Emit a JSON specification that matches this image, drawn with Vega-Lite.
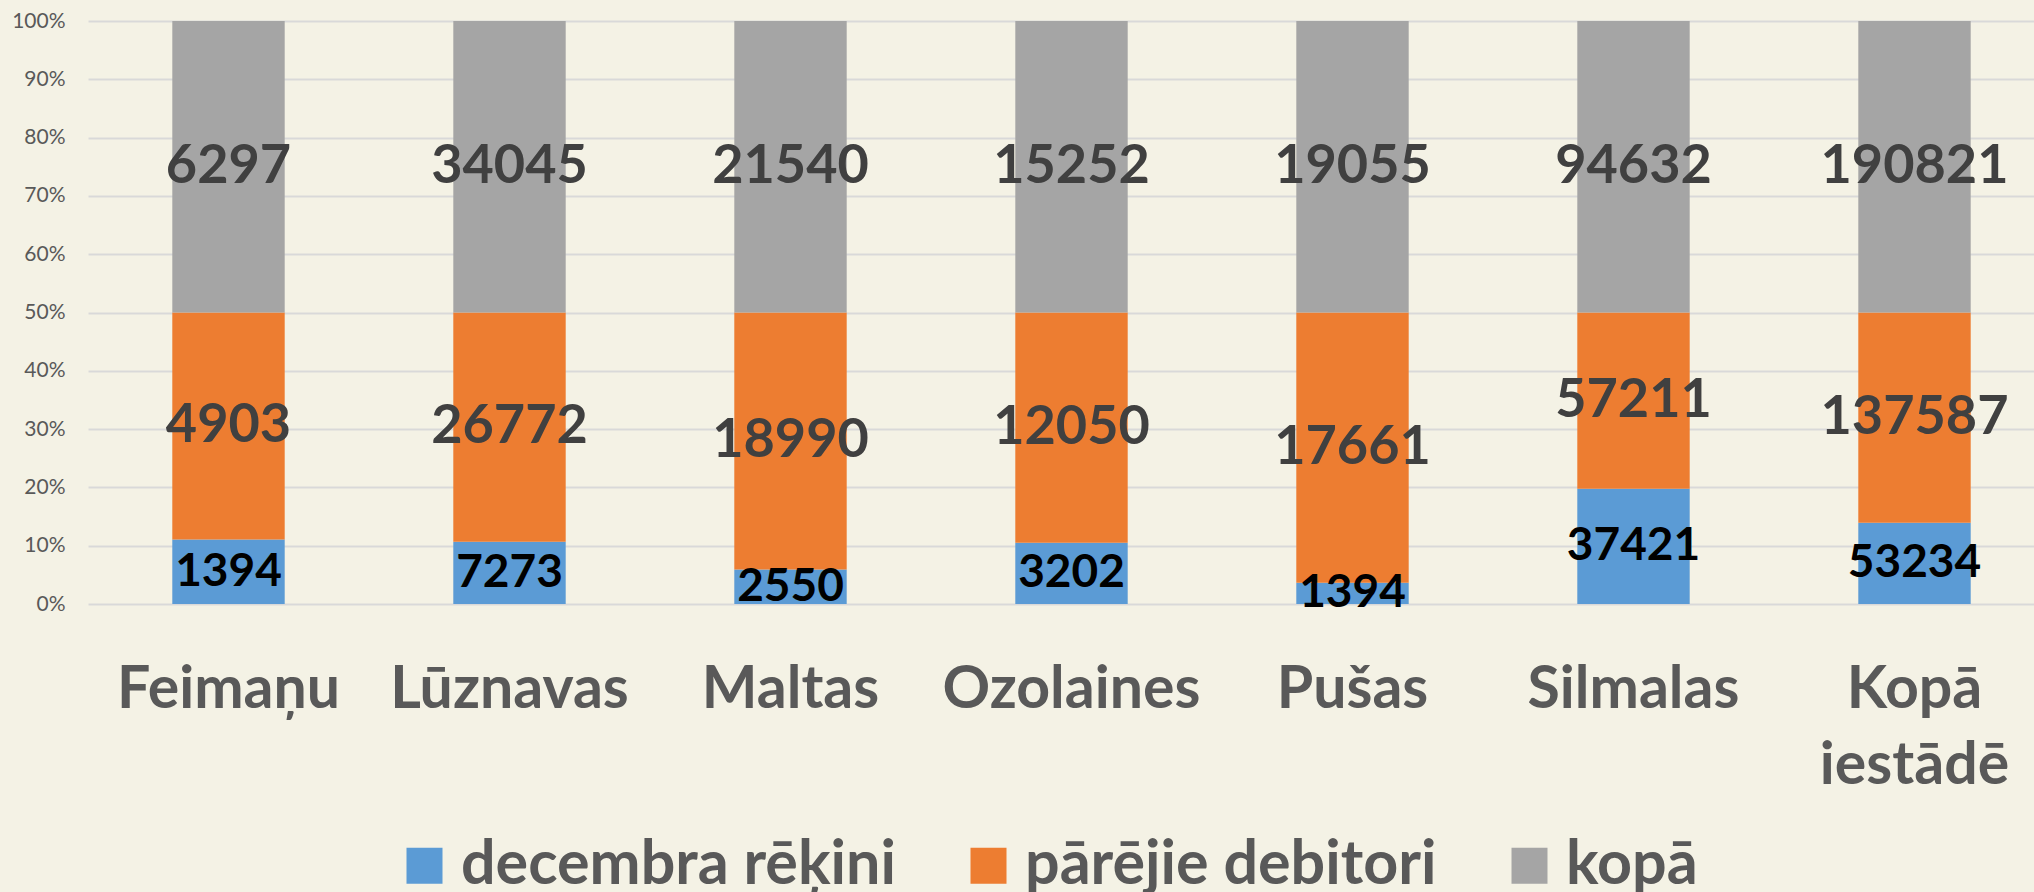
{
  "$schema": "https://vega.github.io/schema/vega-lite/v6.json",
  "autosize": {"type": "none"},
  "padding": {"left": 88, "top": 21, "right": 0, "bottom": 288},
  "width": 1946,
  "height": 583,
  "background": "#F4F2E5",
  "config": {
    "view": {"stroke": null},
    "font": "Lato",
    "axis": {"domain": false, "ticks": false}
  },
  "data": {
    "values": [
      {"site": "Feimaņu", "series": "decembra rēķini", "order": 1, "value": 1394},
      {"site": "Feimaņu", "series": "pārējie debitori", "order": 2, "value": 4903},
      {"site": "Feimaņu", "series": "kopā", "order": 3, "value": 6297},
      {"site": "Lūznavas", "series": "decembra rēķini", "order": 1, "value": 7273},
      {"site": "Lūznavas", "series": "pārējie debitori", "order": 2, "value": 26772},
      {"site": "Lūznavas", "series": "kopā", "order": 3, "value": 34045},
      {"site": "Maltas", "series": "decembra rēķini", "order": 1, "value": 2550},
      {"site": "Maltas", "series": "pārējie debitori", "order": 2, "value": 18990},
      {"site": "Maltas", "series": "kopā", "order": 3, "value": 21540},
      {"site": "Ozolaines", "series": "decembra rēķini", "order": 1, "value": 3202},
      {"site": "Ozolaines", "series": "pārējie debitori", "order": 2, "value": 12050},
      {"site": "Ozolaines", "series": "kopā", "order": 3, "value": 15252},
      {"site": "Pušas", "series": "decembra rēķini", "order": 1, "value": 1394},
      {"site": "Pušas", "series": "pārējie debitori", "order": 2, "value": 17661},
      {"site": "Pušas", "series": "kopā", "order": 3, "value": 19055},
      {"site": "Silmalas", "series": "decembra rēķini", "order": 1, "value": 37421},
      {"site": "Silmalas", "series": "pārējie debitori", "order": 2, "value": 57211},
      {"site": "Silmalas", "series": "kopā", "order": 3, "value": 94632},
      {"site": "Kopā iestādē", "series": "decembra rēķini", "order": 1, "value": 53234},
      {"site": "Kopā iestādē", "series": "pārējie debitori", "order": 2, "value": 137587},
      {"site": "Kopā iestādē", "series": "kopā", "order": 3, "value": 190821}
    ]
  },
  "transform": [
    {"stack": "value", "groupby": ["site"], "sort": [{"field": "order", "order": "ascending"}], "as": ["v0", "v1"], "offset": "normalize"}
  ],
  "encoding": {
    "x": {
      "field": "site", "type": "nominal", "title": null,
      "sort": ["Feimaņu", "Lūznavas", "Maltas", "Ozolaines", "Pušas", "Silmalas", "Kopā iestādē"],
      "scale": {"paddingInner": 0.6, "paddingOuter": 0.3, "range": [0, 1967]},
      "axis": {
        "labelAngle": 0,
        "labelFont": "Lato",
        "labelFontSize": 59,
        "labelFontWeight": "bold",
        "labelColor": "#595959",
        "labelPadding": 56,
        "labelLineHeight": 76,
        "labelLimit": 600,
        "labelExpr": "datum.value == 'Kopā iestādē' ? ['Kopā', 'iestādē'] : datum.value",
        "grid": false
      }
    }
  },
  "layer": [
    {
      "mark": {"type": "bar"},
      "encoding": {
        "y": {
          "field": "v0", "type": "quantitative", "title": null,
          "scale": {"domain": [0, 1]},
          "axis": {
            "format": ".0%",
            "values": [0, 0.1, 0.2, 0.3, 0.4, 0.5, 0.6, 0.7, 0.8, 0.9, 1],
            "labelFont": "Lato",
            "labelFontSize": 21,
            "labelColor": "#595959",
            "labelPadding": 23,
            "grid": true,
            "gridColor": "#D9D9D9",
            "gridWidth": 2
          }
        },
        "y2": {"field": "v1"},
        "color": {
          "field": "series", "type": "nominal", "title": null,
          "scale": {"domain": ["decembra rēķini", "pārējie debitori", "kopā"], "range": ["#5B9BD5", "#ED7D31", "#A5A5A5"]},
          "legend": {
            "orient": "none",
            "direction": "horizontal",
            "legendX": 306,
            "legendY": 814,
            "symbolType": "square",
            "symbolSize": 1296,
            "symbolStrokeWidth": 0,
            "symbolOpacity": 1,
            "labelFont": "Lato",
            "labelFontSize": 61,
            "labelFontWeight": "bold",
            "labelColor": "#595959",
            "labelOffset": 6,
            "columnPadding": 62,
            "labelLimit": 1000
          }
        }
      }
    },
    {
      "transform": [
        {"fold": ["v0", "v1"], "as": ["edge", "pos"]},
        {"aggregate": [{"op": "mean", "field": "pos", "as": "mid"}], "groupby": ["site", "series", "value"]}
      ],
      "mark": {"type": "text", "baseline": "middle", "align": "center", "fontWeight": "bold", "font": "Lato"},
      "encoding": {
        "y": {"field": "mid", "type": "quantitative"},
        "text": {"field": "value", "type": "quantitative", "format": "d"},
        "color": {"condition": {"test": "datum.series === 'decembra rēķini'", "value": "#000000"}, "value": "#404040"},
        "size": {"condition": {"test": "datum.series === 'decembra rēķini'", "value": 46}, "value": 54}
      }
    }
  ]
}
